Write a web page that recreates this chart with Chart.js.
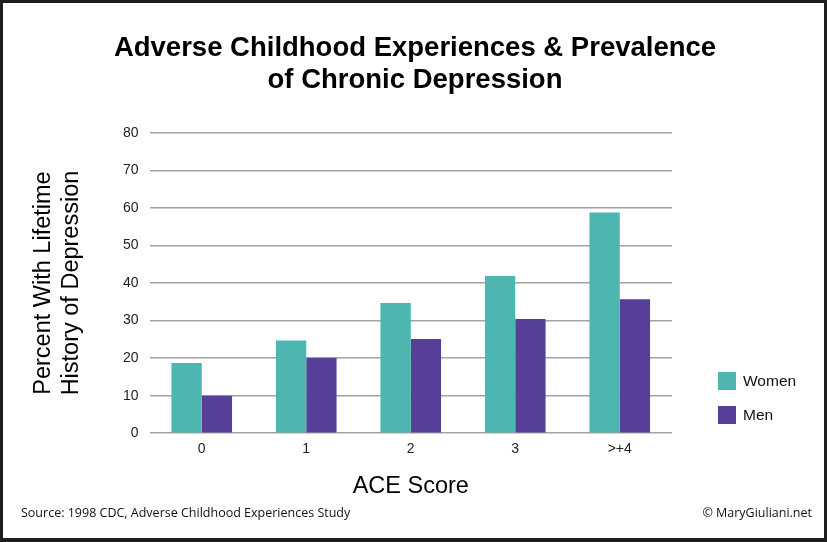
<!DOCTYPE html>
<html>
<head>
<meta charset="utf-8">
<script src="https://cdn.jsdelivr.net/npm/chart.js@4/dist/chart.umd.min.js"></script>
<style>
  html, body { margin: 0; padding: 0; background: #fff; }
  #wrap { position: relative; width: 827px; height: 542px; }
  #frame { position: absolute; left: 0; top: 0; width: 827px; height: 542px; box-sizing: border-box;
           border: 3px solid #1e1e1e; border-bottom-width: 4px; pointer-events: none; }
</style>
</head>
<body>
<div id="wrap">
  <canvas id="chart" width="827" height="542"></canvas>
  <div id="frame"></div>
</div>
<script>
const aceScores = ['0', '1', '2', '3', '>+4'];
const women = [18.7, 24.7, 34.7, 41.9, 58.8];
const men = [10, 20, 25.1, 30.4, 35.7];
const yTicks = [0, 10, 20, 30, 40, 50, 60, 70, 80];

const teal = '#4db6b1';
const purple = '#573e98';
const font = "'Liberation Sans', Arial, sans-serif";

// legend + footer are drawn by hand so they sit where the original has them
const sideLegend = {
  id: 'sideLegend',
  afterDraw(chart) {
    const ctx = chart.ctx;
    ctx.save();
    chart.data.datasets.forEach((ds, i) => {
      const y = 372 + i * 34;
      ctx.fillStyle = ds.backgroundColor;
      ctx.fillRect(718, y, 18, 18);
      ctx.fillStyle = '#111';
      ctx.font = '15.5px ' + font;
      ctx.textBaseline = 'middle';
      ctx.textAlign = 'left';
      ctx.fillText(ds.label, 743, y + 9.5);
    });
    ctx.font = "12.5px 'Open Sans', sans-serif";
    ctx.fillStyle = '#111';
    ctx.textBaseline = 'middle';
    ctx.fillText('Source: 1998 CDC, Adverse Childhood Experiences Study', 21, 513);
    ctx.textAlign = 'right';
    ctx.fillText('\u00A9 MaryGiuliani.net', 812, 513);
    ctx.restore();
  }
};

new Chart(document.getElementById('chart'), {
  type: 'bar',
  data: {
    labels: aceScores,
    datasets: [
      { label: 'Women', data: women, backgroundColor: teal },
      { label: 'Men', data: men, backgroundColor: purple }
    ]
  },
  options: {
    responsive: false,
    animation: false,
    layout: { padding: { left: 3, right: 0, top: 0, bottom: 42 } },
    datasets: { bar: { categoryPercentage: 0.58, barPercentage: 1 } },
    plugins: {
      legend: { display: false },
      tooltip: { enabled: false },
      title: {
        display: true,
        text: ['Adverse Childhood Experiences & Prevalence', 'of Chronic Depression'],
        color: '#000',
        font: { family: font, size: 27.5, weight: 'bold', lineHeight: 1.18 },
        padding: { top: 32, bottom: 36 }
      }
    },
    scales: {
      x: {
        grid: { display: false, drawTicks: false },
        border: { display: false },
        ticks: { color: '#222', padding: 8, font: { family: font, size: 14 } },
        title: {
          display: true,
          text: 'ACE Score',
          color: '#000',
          font: { family: font, size: 23.5, lineHeight: 1.15 },
          padding: { top: 7, bottom: 0 }
        }
      },
      y: {
        min: 0,
        max: 80,
        afterBuildTicks: (scale) => { scale.ticks = yTicks.map(v => ({ value: v })); },
        grid: { color: '#a3a3a3', lineWidth: 1.5, drawTicks: false },
        border: { display: false },
        ticks: { color: '#222', padding: 11, font: { family: font, size: 14 } },
        title: {
          display: true,
          text: ['Percent With Lifetime', 'History of Depression'],
          color: '#000',
          font: { family: font, size: 23.5, lineHeight: 1.19 },
          padding: { top: 27, bottom: 26 }
        }
      },
      // empty right-hand axis that only reserves room for the legend
      side: {
        position: 'right',
        grid: { display: false, drawTicks: false },
        border: { display: false },
        ticks: { display: false },
        afterFit: (scale) => { scale.width = 155; }
      }
    }
  },
  plugins: [sideLegend]
});
</script>
</body>
</html>
